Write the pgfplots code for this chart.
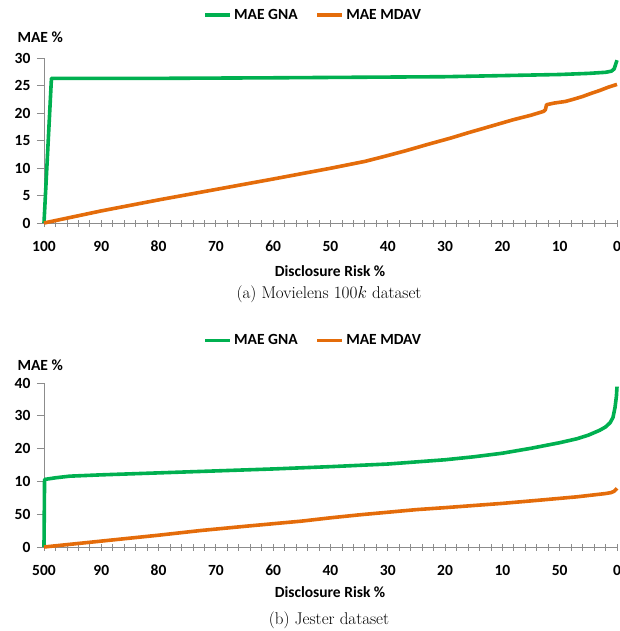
\documentclass[border=0pt]{standalone}
\usepackage{pgfplots}
\pgfplotsset{compat=1.18}
\usepackage{fontspec}
\setmainfont{Latin Modern Roman}
\newfontfamily\calibri{Carlito}
\definecolor{gna}{HTML}{00B050}
\definecolor{mdav}{HTML}{E46C0A}
\definecolor{axgray}{HTML}{8C8C8C}

\newcommand{\lab}{\calibri\bfseries\fontsize{15.5}{18}\selectfont}

\pgfplotsset{
  riskaxis/.style={
    scale only axis,
    width=573pt,
    xmin=0, xmax=100,
    x dir=reverse,
    ymin=0,
    clip=false,
    axis x line=bottom,
    axis y line=left,
    axis line style={axgray, line width=0.9pt, -},
    xtick={0,10,...,100},
    minor x tick num=4,
    tick style={axgray, line width=0.8pt},
    xtick align=center,
    ytick align=outside,
    major tick length=7pt,
    minor tick length=7pt,
    /pgf/number format/assume math mode=true,
    ticklabel style={font=\lab, black},
    xticklabel style={yshift=-11pt},
    yticklabel style={xshift=-3pt},
    legend columns=2,
    legend style={draw=none, fill=none, font=\lab, anchor=center,
      /tikz/every even column/.append style={column sep=16pt},
      inner sep=0pt},
    legend image code/.code={\draw[#1] (0pt,0pt) -- (25pt,0pt);},
  },
  gnaline/.style={gna, line width=3.6pt, line join=round},
  mdavline/.style={mdav, line width=3.6pt, line join=round},
}

\begin{document}
\begin{tikzpicture}
\useasboundingbox (0,0) rectangle (619pt,-631pt);

% (a) Movielens 100k
\begin{axis}[riskaxis,
  at={(44pt,-223pt)}, anchor=south west,
  height=165pt,
  ymax=30, ytick={0,5,...,30},
  legend style={at={(0.47,1.26)}},
]
\addplot[gnaline] coordinates {
(100,0) (98.7,26.3) (80,26.3) (60,26.4) (45,26.5) (30,26.6) (20,26.8)
(10,27.0) (5,27.2) (2,27.4) (1,27.6) (0.5,28.0) (0,29.6)
};
\addlegendentry{MAE GNA}
\addplot[mdavline] coordinates {
(100,0) (90,2.2) (80,4.2) (70,6.1) (60,8.0) (50,9.95) (44,11.2) (40.8,12.05)
(37,13.1) (33,14.3) (29,15.45) (26,16.4) (22,17.6) (18.2,18.75) (15,19.6)
(12.8,20.3) (12.5,20.6) (12.3,21.5) (11,21.8) (9,22.1) (7.6,22.5) (6,23.0)
(4.7,23.5) (3,24.1) (1.5,24.7) (0,25.2)
};
\addlegendentry{MAE MDAV}
\end{axis}
\node[font=\lab, anchor=west] at (14pt,-37pt) {MAE \%};
\node[font=\lab] at (330pt,-271pt) {Disclosure Risk \%};
\node[font=\fontsize{17}{20}\selectfont] at (329pt,-294pt) {(a) Movielens $100k$ dataset};

% (b) Jester
\begin{axis}[riskaxis,
  at={(44pt,-547pt)}, anchor=south west,
  height=164pt,
  ymax=50, ytick={0,10,...,50},
  yticklabels={0,50,10,20,30,40},
  xticklabels={0,50,10,20,30,40,60,70,80,90,500},
  legend style={at={(0.47,1.26)}},
]
\addplot[gnaline] coordinates {
(100,0) (99.9,20.6) (98,21.1) (95.5,21.6) (90,22.0) (80,22.6) (70,23.2)
(60,23.8) (50,24.5) (40,25.3) (30,26.6) (25,27.5) (20,28.6) (15,30.1)
(10,31.8) (7,33.0) (5,34.1) (3,35.6) (2,36.6) (1.2,37.9) (0.7,39.5)
(0.35,42.5) (0.1,46) (0,48.9)
};
\addlegendentry{MAE GNA}
\addplot[mdavline] coordinates {
(100,0) (95,0.9) (90,1.8) (80,3.6) (72.8,5.0) (65,6.3) (55,7.9) (50,8.9)
(45,9.8) (40,10.6) (35,11.4) (30,12.0) (20,13.3) (13.4,14.3) (7,15.3)
(4,15.9) (2,16.3) (1,16.6) (0.5,17.0) (0.2,17.5) (0,17.9)
};
\addlegendentry{MAE MDAV}
\end{axis}
\node[font=\lab, anchor=west] at (14pt,-365pt) {MAE \%};
\node[font=\lab] at (330pt,-592pt) {Disclosure Risk \%};
\node[font=\fontsize{17}{20}\selectfont] at (329pt,-620pt) {(b) Jester dataset};
\end{tikzpicture}
\end{document}
